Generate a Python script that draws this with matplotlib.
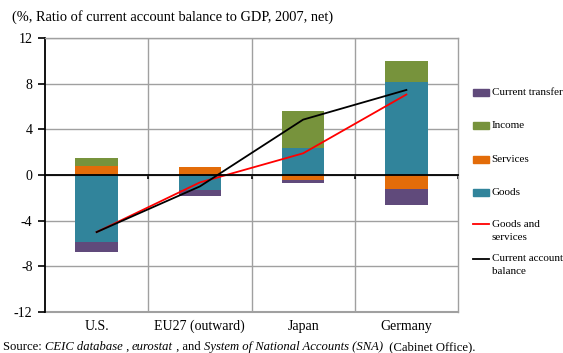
import matplotlib.pyplot as plt
import numpy as np
from matplotlib.patches import Rectangle
from matplotlib.lines import Line2D

plt.rcParams['font.family'] = ['Liberation Serif', 'DejaVu Serif']
plt.rcParams['axes.unicode_minus'] = False

# (%, ratio to GDP, 2007, net)
countries = ['U.S.', 'EU27 (outward)', 'Japan', 'Germany']
goods = [-5.85, -1.3, 2.35, 8.15]
services = [0.75, 0.67, -0.48, -1.2]
income = [0.78, 0.0, 3.25, 1.85]
current_transfer = [-0.88, -0.5, -0.26, -1.4]
goods_and_services = [-5.0, -0.65, 1.9, 7.05]
current_account = [-5.0, -1.0, 4.85, 7.45]

series = [('Goods', goods, '#31849B'),
          ('Services', services, '#E36C09'),
          ('Income', income, '#77933C'),
          ('Current transfer', current_transfer, '#604A7B')]

fig = plt.figure(figsize=(5.63, 3.53), dpi=100)
ax = fig.add_axes([45/563, 1 - 312/353, 413/563, 274/353])

x = np.arange(len(countries))
pos_base = np.zeros(len(countries))
neg_base = np.zeros(len(countries))
for name, vals, col in series:
    v = np.array(vals)
    bottom = np.where(v >= 0, pos_base, neg_base)
    ax.bar(x, v, 0.41, bottom=bottom, color=col, zorder=3)
    pos_base = pos_base + np.where(v >= 0, v, 0)
    neg_base = neg_base + np.where(v < 0, v, 0)

ax.plot(x, goods_and_services, color='#FF0000', lw=1.3, zorder=4)
ax.plot(x, current_account, color='black', lw=1.3, zorder=4)

ax.set_xlim(-0.5, 3.5)
ax.set_ylim(-12, 12)
ax.set_yticks(np.arange(-12, 13, 4))
ax.tick_params(axis='y', direction='out', length=5, width=1.2, labelsize=10, pad=4)
ax.grid(axis='y', color='#A0A0A0', lw=1, zorder=0)

# category separators
for b in [0.5, 1.5, 2.5]:
    ax.axvline(b, color='#A0A0A0', lw=1, zorder=0)

# zero line acts as the x axis
ax.spines['bottom'].set_position(('data', 0))
ax.spines['bottom'].set_color('black')
ax.spines['bottom'].set_linewidth(1.3)
ax.spines['bottom'].set_zorder(5)
ax.set_xticks([0.5, 1.5, 2.5, 3.5])
ax.set_xticklabels([])
ax.tick_params(axis='x', direction='out', length=3, width=1.2)
ax.spines['left'].set_color('black')
ax.spines['left'].set_linewidth(1.3)
for s in ['top', 'right']:
    ax.spines[s].set_color('#A0A0A0')
    ax.spines[s].set_linewidth(1)
ax.axhline(-12, color='#A0A0A0', lw=1.5, zorder=1, clip_on=False)

for i, c in enumerate(countries):
    ax.text(i, -12.7, c, ha='center', va='top', fontsize=10)

fig.text(12/563, 1 - 17/353, '(%, Ratio of current account balance to GDP, 2007, net)',
         fontsize=10.4, va='center', ha='left')

# legend
legend_items = [('Current transfer', '#604A7B', 'patch', 92.5),
                ('Income', '#77933C', 'patch', 125.5),
                ('Services', '#E36C09', 'patch', 159),
                ('Goods', '#31849B', 'patch', 192.5),
                ('Goods and\nservices', '#FF0000', 'line', 224.5),
                ('Current account\nbalance', 'black', 'line', 258.5)]
for label, col, kind, yp in legend_items:
    yf = 1 - yp/353
    if kind == 'patch':
        fig.add_artist(Rectangle((473/563, yf - 3.5/353), 16/563, 7/353,
                                 color=col, transform=fig.transFigure))
    else:
        fig.add_artist(Line2D([473/563, 489/563], [yf, yf], color=col, lw=1.3,
                              transform=fig.transFigure))
    for k, line in enumerate(label.split('\n')):
        fig.text(491.5/563, yf - k*13.3/353, line, fontsize=8, va='center', ha='left')

# source line with italic parts
parts = [('Source: ', 'normal'), ('CEIC database', 'italic'), (' , ', 'normal'),
         ('eurostat', 'italic'), (' , and ', 'normal'),
         ('System of National Accounts (SNA)', 'italic'), ('  (Cabinet Office).', 'normal')]
renderer = fig.canvas.get_renderer()
xp = 3
for txt, style in parts:
    t = fig.text(xp/563, 1 - 347/353, txt, fontsize=9.1, style=style, va='center', ha='left')
    bb = t.get_window_extent(renderer=renderer)
    xp += bb.width

fig.savefig('out.png', dpi=100)
